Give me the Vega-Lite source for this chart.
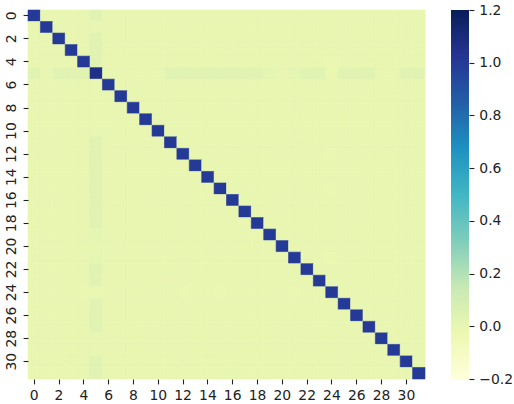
{
"$schema": "https://vega.github.io/schema/vega-lite/v6.json",
"padding": {"left": 4, "top": 3, "right": 5, "bottom": 0},
"spacing": 25,
"config": {"view": {"stroke": null}, "font": "DejaVu Sans", "axis": {"labelFont": "DejaVu Sans", "labelFontSize": 13.9, "labelColor": "#222", "tickColor": "#222", "tickWidth": 1.1, "tickSize": 4.9, "labelPadding": 4.9, "domain": false, "grid": false, "title": null}},
"hconcat": [
{
"width": 397, "height": 369,
"data": {"values": [
{"r":0,"c":0,"v":1},{"r":0,"c":1,"v":0},{"r":0,"c":2,"v":0},{"r":0,"c":3,"v":0},{"r":0,"c":4,"v":0},{"r":0,"c":5,"v":0.03},{"r":0,"c":6,"v":0},{"r":0,"c":7,"v":0},{"r":0,"c":8,"v":0},{"r":0,"c":9,"v":0},{"r":0,"c":10,"v":0},{"r":0,"c":11,"v":0},{"r":0,"c":12,"v":0},{"r":0,"c":13,"v":0},{"r":0,"c":14,"v":0},{"r":0,"c":15,"v":0},{"r":0,"c":16,"v":0},{"r":0,"c":17,"v":0},{"r":0,"c":18,"v":0},{"r":0,"c":19,"v":0},{"r":0,"c":20,"v":0},{"r":0,"c":21,"v":0},{"r":0,"c":22,"v":0},{"r":0,"c":23,"v":0},{"r":0,"c":24,"v":0},{"r":0,"c":25,"v":0},{"r":0,"c":26,"v":0},{"r":0,"c":27,"v":0},{"r":0,"c":28,"v":0},{"r":0,"c":29,"v":0},{"r":0,"c":30,"v":0},{"r":0,"c":31,"v":0},
{"r":1,"c":0,"v":0},{"r":1,"c":1,"v":1},{"r":1,"c":2,"v":0},{"r":1,"c":3,"v":0},{"r":1,"c":4,"v":0},{"r":1,"c":5,"v":0},{"r":1,"c":6,"v":0},{"r":1,"c":7,"v":0},{"r":1,"c":8,"v":0},{"r":1,"c":9,"v":0},{"r":1,"c":10,"v":0},{"r":1,"c":11,"v":0},{"r":1,"c":12,"v":0},{"r":1,"c":13,"v":0},{"r":1,"c":14,"v":0},{"r":1,"c":15,"v":0},{"r":1,"c":16,"v":0},{"r":1,"c":17,"v":0},{"r":1,"c":18,"v":0},{"r":1,"c":19,"v":0},{"r":1,"c":20,"v":0},{"r":1,"c":21,"v":0},{"r":1,"c":22,"v":0},{"r":1,"c":23,"v":0},{"r":1,"c":24,"v":0},{"r":1,"c":25,"v":0},{"r":1,"c":26,"v":0},{"r":1,"c":27,"v":0},{"r":1,"c":28,"v":0},{"r":1,"c":29,"v":0},{"r":1,"c":30,"v":0},{"r":1,"c":31,"v":0},
{"r":2,"c":0,"v":0},{"r":2,"c":1,"v":0},{"r":2,"c":2,"v":1},{"r":2,"c":3,"v":0},{"r":2,"c":4,"v":0},{"r":2,"c":5,"v":0.03},{"r":2,"c":6,"v":0},{"r":2,"c":7,"v":0},{"r":2,"c":8,"v":0},{"r":2,"c":9,"v":0},{"r":2,"c":10,"v":0},{"r":2,"c":11,"v":0},{"r":2,"c":12,"v":0},{"r":2,"c":13,"v":0},{"r":2,"c":14,"v":0},{"r":2,"c":15,"v":0},{"r":2,"c":16,"v":0},{"r":2,"c":17,"v":0},{"r":2,"c":18,"v":0},{"r":2,"c":19,"v":0},{"r":2,"c":20,"v":0},{"r":2,"c":21,"v":0},{"r":2,"c":22,"v":0},{"r":2,"c":23,"v":0},{"r":2,"c":24,"v":0},{"r":2,"c":25,"v":0},{"r":2,"c":26,"v":0},{"r":2,"c":27,"v":0},{"r":2,"c":28,"v":0},{"r":2,"c":29,"v":0},{"r":2,"c":30,"v":0},{"r":2,"c":31,"v":0},
{"r":3,"c":0,"v":0},{"r":3,"c":1,"v":0},{"r":3,"c":2,"v":0},{"r":3,"c":3,"v":1},{"r":3,"c":4,"v":0},{"r":3,"c":5,"v":0.03},{"r":3,"c":6,"v":0},{"r":3,"c":7,"v":0},{"r":3,"c":8,"v":0},{"r":3,"c":9,"v":0},{"r":3,"c":10,"v":0},{"r":3,"c":11,"v":0},{"r":3,"c":12,"v":0},{"r":3,"c":13,"v":0},{"r":3,"c":14,"v":0},{"r":3,"c":15,"v":0},{"r":3,"c":16,"v":0},{"r":3,"c":17,"v":0},{"r":3,"c":18,"v":0},{"r":3,"c":19,"v":0},{"r":3,"c":20,"v":0},{"r":3,"c":21,"v":0},{"r":3,"c":22,"v":0},{"r":3,"c":23,"v":0},{"r":3,"c":24,"v":0},{"r":3,"c":25,"v":0},{"r":3,"c":26,"v":0},{"r":3,"c":27,"v":0},{"r":3,"c":28,"v":0},{"r":3,"c":29,"v":0},{"r":3,"c":30,"v":0},{"r":3,"c":31,"v":0},
{"r":4,"c":0,"v":0},{"r":4,"c":1,"v":0},{"r":4,"c":2,"v":0},{"r":4,"c":3,"v":0},{"r":4,"c":4,"v":1},{"r":4,"c":5,"v":0.03},{"r":4,"c":6,"v":0},{"r":4,"c":7,"v":0},{"r":4,"c":8,"v":0},{"r":4,"c":9,"v":0},{"r":4,"c":10,"v":0},{"r":4,"c":11,"v":0},{"r":4,"c":12,"v":0},{"r":4,"c":13,"v":0},{"r":4,"c":14,"v":0},{"r":4,"c":15,"v":0},{"r":4,"c":16,"v":0},{"r":4,"c":17,"v":0},{"r":4,"c":18,"v":0},{"r":4,"c":19,"v":0},{"r":4,"c":20,"v":0},{"r":4,"c":21,"v":0},{"r":4,"c":22,"v":0},{"r":4,"c":23,"v":0},{"r":4,"c":24,"v":-0.01},{"r":4,"c":25,"v":0},{"r":4,"c":26,"v":0},{"r":4,"c":27,"v":0},{"r":4,"c":28,"v":0},{"r":4,"c":29,"v":0},{"r":4,"c":30,"v":0},{"r":4,"c":31,"v":0},
{"r":5,"c":0,"v":0.03},{"r":5,"c":1,"v":0},{"r":5,"c":2,"v":0.03},{"r":5,"c":3,"v":0.03},{"r":5,"c":4,"v":0.03},{"r":5,"c":5,"v":1.06},{"r":5,"c":6,"v":0},{"r":5,"c":7,"v":0},{"r":5,"c":8,"v":0},{"r":5,"c":9,"v":0},{"r":5,"c":10,"v":0},{"r":5,"c":11,"v":0.03},{"r":5,"c":12,"v":0.03},{"r":5,"c":13,"v":0.03},{"r":5,"c":14,"v":0.03},{"r":5,"c":15,"v":0.03},{"r":5,"c":16,"v":0.03},{"r":5,"c":17,"v":0.03},{"r":5,"c":18,"v":0.03},{"r":5,"c":19,"v":0.01},{"r":5,"c":20,"v":0},{"r":5,"c":21,"v":0.01},{"r":5,"c":22,"v":0.03},{"r":5,"c":23,"v":0.03},{"r":5,"c":24,"v":-0.01},{"r":5,"c":25,"v":0.03},{"r":5,"c":26,"v":0.03},{"r":5,"c":27,"v":0.03},{"r":5,"c":28,"v":0},{"r":5,"c":29,"v":0},{"r":5,"c":30,"v":0.03},{"r":5,"c":31,"v":0.03},
{"r":6,"c":0,"v":0},{"r":6,"c":1,"v":0},{"r":6,"c":2,"v":0},{"r":6,"c":3,"v":0},{"r":6,"c":4,"v":0},{"r":6,"c":5,"v":0},{"r":6,"c":6,"v":1},{"r":6,"c":7,"v":0},{"r":6,"c":8,"v":0},{"r":6,"c":9,"v":0},{"r":6,"c":10,"v":0},{"r":6,"c":11,"v":0},{"r":6,"c":12,"v":0},{"r":6,"c":13,"v":0},{"r":6,"c":14,"v":0},{"r":6,"c":15,"v":0},{"r":6,"c":16,"v":0},{"r":6,"c":17,"v":0},{"r":6,"c":18,"v":0},{"r":6,"c":19,"v":0},{"r":6,"c":20,"v":0},{"r":6,"c":21,"v":0},{"r":6,"c":22,"v":0},{"r":6,"c":23,"v":0},{"r":6,"c":24,"v":0},{"r":6,"c":25,"v":0},{"r":6,"c":26,"v":0},{"r":6,"c":27,"v":0},{"r":6,"c":28,"v":0},{"r":6,"c":29,"v":0},{"r":6,"c":30,"v":0},{"r":6,"c":31,"v":0},
{"r":7,"c":0,"v":0},{"r":7,"c":1,"v":0},{"r":7,"c":2,"v":0},{"r":7,"c":3,"v":0},{"r":7,"c":4,"v":0},{"r":7,"c":5,"v":0},{"r":7,"c":6,"v":0},{"r":7,"c":7,"v":1},{"r":7,"c":8,"v":0},{"r":7,"c":9,"v":0},{"r":7,"c":10,"v":0},{"r":7,"c":11,"v":0},{"r":7,"c":12,"v":0},{"r":7,"c":13,"v":0},{"r":7,"c":14,"v":0},{"r":7,"c":15,"v":0},{"r":7,"c":16,"v":0},{"r":7,"c":17,"v":0},{"r":7,"c":18,"v":0},{"r":7,"c":19,"v":0},{"r":7,"c":20,"v":0},{"r":7,"c":21,"v":0},{"r":7,"c":22,"v":0},{"r":7,"c":23,"v":0},{"r":7,"c":24,"v":0},{"r":7,"c":25,"v":0},{"r":7,"c":26,"v":0},{"r":7,"c":27,"v":0},{"r":7,"c":28,"v":0},{"r":7,"c":29,"v":0},{"r":7,"c":30,"v":0},{"r":7,"c":31,"v":0},
{"r":8,"c":0,"v":0},{"r":8,"c":1,"v":0},{"r":8,"c":2,"v":0},{"r":8,"c":3,"v":0},{"r":8,"c":4,"v":0},{"r":8,"c":5,"v":0},{"r":8,"c":6,"v":0},{"r":8,"c":7,"v":0},{"r":8,"c":8,"v":1},{"r":8,"c":9,"v":0},{"r":8,"c":10,"v":0},{"r":8,"c":11,"v":0},{"r":8,"c":12,"v":0},{"r":8,"c":13,"v":0},{"r":8,"c":14,"v":0},{"r":8,"c":15,"v":0},{"r":8,"c":16,"v":0},{"r":8,"c":17,"v":0},{"r":8,"c":18,"v":0},{"r":8,"c":19,"v":0},{"r":8,"c":20,"v":0},{"r":8,"c":21,"v":0},{"r":8,"c":22,"v":0},{"r":8,"c":23,"v":0},{"r":8,"c":24,"v":0},{"r":8,"c":25,"v":0},{"r":8,"c":26,"v":0},{"r":8,"c":27,"v":0},{"r":8,"c":28,"v":0},{"r":8,"c":29,"v":0},{"r":8,"c":30,"v":0},{"r":8,"c":31,"v":0},
{"r":9,"c":0,"v":0},{"r":9,"c":1,"v":0},{"r":9,"c":2,"v":0},{"r":9,"c":3,"v":0},{"r":9,"c":4,"v":0},{"r":9,"c":5,"v":0},{"r":9,"c":6,"v":0},{"r":9,"c":7,"v":0},{"r":9,"c":8,"v":0},{"r":9,"c":9,"v":1},{"r":9,"c":10,"v":0},{"r":9,"c":11,"v":0},{"r":9,"c":12,"v":0},{"r":9,"c":13,"v":0},{"r":9,"c":14,"v":0},{"r":9,"c":15,"v":0},{"r":9,"c":16,"v":0},{"r":9,"c":17,"v":0},{"r":9,"c":18,"v":0},{"r":9,"c":19,"v":0},{"r":9,"c":20,"v":0},{"r":9,"c":21,"v":0},{"r":9,"c":22,"v":0},{"r":9,"c":23,"v":0},{"r":9,"c":24,"v":0},{"r":9,"c":25,"v":0},{"r":9,"c":26,"v":0},{"r":9,"c":27,"v":0},{"r":9,"c":28,"v":0},{"r":9,"c":29,"v":0},{"r":9,"c":30,"v":0},{"r":9,"c":31,"v":0},
{"r":10,"c":0,"v":0},{"r":10,"c":1,"v":0},{"r":10,"c":2,"v":0},{"r":10,"c":3,"v":0},{"r":10,"c":4,"v":0},{"r":10,"c":5,"v":0},{"r":10,"c":6,"v":0},{"r":10,"c":7,"v":0},{"r":10,"c":8,"v":0},{"r":10,"c":9,"v":0},{"r":10,"c":10,"v":1},{"r":10,"c":11,"v":0},{"r":10,"c":12,"v":0},{"r":10,"c":13,"v":0},{"r":10,"c":14,"v":0},{"r":10,"c":15,"v":0},{"r":10,"c":16,"v":0},{"r":10,"c":17,"v":0},{"r":10,"c":18,"v":0},{"r":10,"c":19,"v":0},{"r":10,"c":20,"v":0},{"r":10,"c":21,"v":0},{"r":10,"c":22,"v":0},{"r":10,"c":23,"v":0},{"r":10,"c":24,"v":0},{"r":10,"c":25,"v":0},{"r":10,"c":26,"v":0},{"r":10,"c":27,"v":0},{"r":10,"c":28,"v":0},{"r":10,"c":29,"v":0},{"r":10,"c":30,"v":0},{"r":10,"c":31,"v":0},
{"r":11,"c":0,"v":0},{"r":11,"c":1,"v":0},{"r":11,"c":2,"v":0},{"r":11,"c":3,"v":0},{"r":11,"c":4,"v":0},{"r":11,"c":5,"v":0.03},{"r":11,"c":6,"v":0},{"r":11,"c":7,"v":0},{"r":11,"c":8,"v":0},{"r":11,"c":9,"v":0},{"r":11,"c":10,"v":0},{"r":11,"c":11,"v":1},{"r":11,"c":12,"v":0},{"r":11,"c":13,"v":0},{"r":11,"c":14,"v":0},{"r":11,"c":15,"v":0},{"r":11,"c":16,"v":0},{"r":11,"c":17,"v":0},{"r":11,"c":18,"v":0},{"r":11,"c":19,"v":0},{"r":11,"c":20,"v":0},{"r":11,"c":21,"v":0},{"r":11,"c":22,"v":0},{"r":11,"c":23,"v":0},{"r":11,"c":24,"v":0},{"r":11,"c":25,"v":0},{"r":11,"c":26,"v":0},{"r":11,"c":27,"v":0},{"r":11,"c":28,"v":0},{"r":11,"c":29,"v":0},{"r":11,"c":30,"v":0},{"r":11,"c":31,"v":0},
{"r":12,"c":0,"v":0},{"r":12,"c":1,"v":0},{"r":12,"c":2,"v":0},{"r":12,"c":3,"v":0},{"r":12,"c":4,"v":0},{"r":12,"c":5,"v":0.03},{"r":12,"c":6,"v":0},{"r":12,"c":7,"v":0},{"r":12,"c":8,"v":0},{"r":12,"c":9,"v":0},{"r":12,"c":10,"v":0},{"r":12,"c":11,"v":0},{"r":12,"c":12,"v":1},{"r":12,"c":13,"v":0},{"r":12,"c":14,"v":0},{"r":12,"c":15,"v":0},{"r":12,"c":16,"v":0},{"r":12,"c":17,"v":0},{"r":12,"c":18,"v":0},{"r":12,"c":19,"v":0},{"r":12,"c":20,"v":0},{"r":12,"c":21,"v":0},{"r":12,"c":22,"v":0},{"r":12,"c":23,"v":0},{"r":12,"c":24,"v":-0.01},{"r":12,"c":25,"v":0},{"r":12,"c":26,"v":0},{"r":12,"c":27,"v":0},{"r":12,"c":28,"v":0},{"r":12,"c":29,"v":0},{"r":12,"c":30,"v":0},{"r":12,"c":31,"v":0},
{"r":13,"c":0,"v":0},{"r":13,"c":1,"v":0},{"r":13,"c":2,"v":0},{"r":13,"c":3,"v":0},{"r":13,"c":4,"v":0},{"r":13,"c":5,"v":0.03},{"r":13,"c":6,"v":0},{"r":13,"c":7,"v":0},{"r":13,"c":8,"v":0},{"r":13,"c":9,"v":0},{"r":13,"c":10,"v":0},{"r":13,"c":11,"v":0},{"r":13,"c":12,"v":0},{"r":13,"c":13,"v":1},{"r":13,"c":14,"v":0},{"r":13,"c":15,"v":0},{"r":13,"c":16,"v":0},{"r":13,"c":17,"v":0},{"r":13,"c":18,"v":0},{"r":13,"c":19,"v":0},{"r":13,"c":20,"v":0},{"r":13,"c":21,"v":0},{"r":13,"c":22,"v":0},{"r":13,"c":23,"v":0},{"r":13,"c":24,"v":0},{"r":13,"c":25,"v":0},{"r":13,"c":26,"v":0},{"r":13,"c":27,"v":0},{"r":13,"c":28,"v":0},{"r":13,"c":29,"v":0},{"r":13,"c":30,"v":0},{"r":13,"c":31,"v":0},
{"r":14,"c":0,"v":0},{"r":14,"c":1,"v":0},{"r":14,"c":2,"v":0},{"r":14,"c":3,"v":0},{"r":14,"c":4,"v":0},{"r":14,"c":5,"v":0.03},{"r":14,"c":6,"v":0},{"r":14,"c":7,"v":0},{"r":14,"c":8,"v":0},{"r":14,"c":9,"v":0},{"r":14,"c":10,"v":0},{"r":14,"c":11,"v":0},{"r":14,"c":12,"v":0},{"r":14,"c":13,"v":0},{"r":14,"c":14,"v":1},{"r":14,"c":15,"v":0},{"r":14,"c":16,"v":0},{"r":14,"c":17,"v":0},{"r":14,"c":18,"v":0},{"r":14,"c":19,"v":0},{"r":14,"c":20,"v":0},{"r":14,"c":21,"v":0},{"r":14,"c":22,"v":0},{"r":14,"c":23,"v":0},{"r":14,"c":24,"v":0},{"r":14,"c":25,"v":0},{"r":14,"c":26,"v":0},{"r":14,"c":27,"v":0},{"r":14,"c":28,"v":0},{"r":14,"c":29,"v":0},{"r":14,"c":30,"v":0},{"r":14,"c":31,"v":0},
{"r":15,"c":0,"v":0},{"r":15,"c":1,"v":0},{"r":15,"c":2,"v":0},{"r":15,"c":3,"v":0},{"r":15,"c":4,"v":0},{"r":15,"c":5,"v":0.03},{"r":15,"c":6,"v":0},{"r":15,"c":7,"v":0},{"r":15,"c":8,"v":0},{"r":15,"c":9,"v":0},{"r":15,"c":10,"v":0},{"r":15,"c":11,"v":0},{"r":15,"c":12,"v":0},{"r":15,"c":13,"v":0},{"r":15,"c":14,"v":0},{"r":15,"c":15,"v":1},{"r":15,"c":16,"v":0},{"r":15,"c":17,"v":0},{"r":15,"c":18,"v":0},{"r":15,"c":19,"v":0},{"r":15,"c":20,"v":0},{"r":15,"c":21,"v":0},{"r":15,"c":22,"v":0},{"r":15,"c":23,"v":0},{"r":15,"c":24,"v":-0.01},{"r":15,"c":25,"v":0},{"r":15,"c":26,"v":0},{"r":15,"c":27,"v":0},{"r":15,"c":28,"v":0},{"r":15,"c":29,"v":0},{"r":15,"c":30,"v":0},{"r":15,"c":31,"v":0},
{"r":16,"c":0,"v":0},{"r":16,"c":1,"v":0},{"r":16,"c":2,"v":0},{"r":16,"c":3,"v":0},{"r":16,"c":4,"v":0},{"r":16,"c":5,"v":0.03},{"r":16,"c":6,"v":0},{"r":16,"c":7,"v":0},{"r":16,"c":8,"v":0},{"r":16,"c":9,"v":0},{"r":16,"c":10,"v":0},{"r":16,"c":11,"v":0},{"r":16,"c":12,"v":0},{"r":16,"c":13,"v":0},{"r":16,"c":14,"v":0},{"r":16,"c":15,"v":0},{"r":16,"c":16,"v":1},{"r":16,"c":17,"v":0},{"r":16,"c":18,"v":0},{"r":16,"c":19,"v":0},{"r":16,"c":20,"v":0},{"r":16,"c":21,"v":0},{"r":16,"c":22,"v":0},{"r":16,"c":23,"v":0},{"r":16,"c":24,"v":0},{"r":16,"c":25,"v":0},{"r":16,"c":26,"v":0},{"r":16,"c":27,"v":0},{"r":16,"c":28,"v":0},{"r":16,"c":29,"v":0},{"r":16,"c":30,"v":0},{"r":16,"c":31,"v":0},
{"r":17,"c":0,"v":0},{"r":17,"c":1,"v":0},{"r":17,"c":2,"v":0},{"r":17,"c":3,"v":0},{"r":17,"c":4,"v":0},{"r":17,"c":5,"v":0.03},{"r":17,"c":6,"v":0},{"r":17,"c":7,"v":0},{"r":17,"c":8,"v":0},{"r":17,"c":9,"v":0},{"r":17,"c":10,"v":0},{"r":17,"c":11,"v":0},{"r":17,"c":12,"v":0},{"r":17,"c":13,"v":0},{"r":17,"c":14,"v":0},{"r":17,"c":15,"v":0},{"r":17,"c":16,"v":0},{"r":17,"c":17,"v":1},{"r":17,"c":18,"v":0},{"r":17,"c":19,"v":0},{"r":17,"c":20,"v":0},{"r":17,"c":21,"v":0},{"r":17,"c":22,"v":0},{"r":17,"c":23,"v":0},{"r":17,"c":24,"v":0},{"r":17,"c":25,"v":0},{"r":17,"c":26,"v":0},{"r":17,"c":27,"v":0},{"r":17,"c":28,"v":0},{"r":17,"c":29,"v":0},{"r":17,"c":30,"v":0},{"r":17,"c":31,"v":0},
{"r":18,"c":0,"v":0},{"r":18,"c":1,"v":0},{"r":18,"c":2,"v":0},{"r":18,"c":3,"v":0},{"r":18,"c":4,"v":0},{"r":18,"c":5,"v":0.03},{"r":18,"c":6,"v":0},{"r":18,"c":7,"v":0},{"r":18,"c":8,"v":0},{"r":18,"c":9,"v":0},{"r":18,"c":10,"v":0},{"r":18,"c":11,"v":0},{"r":18,"c":12,"v":0},{"r":18,"c":13,"v":0},{"r":18,"c":14,"v":0},{"r":18,"c":15,"v":0},{"r":18,"c":16,"v":0},{"r":18,"c":17,"v":0},{"r":18,"c":18,"v":1},{"r":18,"c":19,"v":0},{"r":18,"c":20,"v":0},{"r":18,"c":21,"v":0},{"r":18,"c":22,"v":0},{"r":18,"c":23,"v":0},{"r":18,"c":24,"v":0},{"r":18,"c":25,"v":0},{"r":18,"c":26,"v":0},{"r":18,"c":27,"v":0},{"r":18,"c":28,"v":0},{"r":18,"c":29,"v":0},{"r":18,"c":30,"v":0},{"r":18,"c":31,"v":0},
{"r":19,"c":0,"v":0},{"r":19,"c":1,"v":0},{"r":19,"c":2,"v":0},{"r":19,"c":3,"v":0},{"r":19,"c":4,"v":0},{"r":19,"c":5,"v":0.01},{"r":19,"c":6,"v":0},{"r":19,"c":7,"v":0},{"r":19,"c":8,"v":0},{"r":19,"c":9,"v":0},{"r":19,"c":10,"v":0},{"r":19,"c":11,"v":0},{"r":19,"c":12,"v":0},{"r":19,"c":13,"v":0},{"r":19,"c":14,"v":0},{"r":19,"c":15,"v":0},{"r":19,"c":16,"v":0},{"r":19,"c":17,"v":0},{"r":19,"c":18,"v":0},{"r":19,"c":19,"v":1},{"r":19,"c":20,"v":0},{"r":19,"c":21,"v":0},{"r":19,"c":22,"v":0},{"r":19,"c":23,"v":0},{"r":19,"c":24,"v":0},{"r":19,"c":25,"v":0},{"r":19,"c":26,"v":0},{"r":19,"c":27,"v":0},{"r":19,"c":28,"v":0},{"r":19,"c":29,"v":0},{"r":19,"c":30,"v":0},{"r":19,"c":31,"v":0},
{"r":20,"c":0,"v":0},{"r":20,"c":1,"v":0},{"r":20,"c":2,"v":0},{"r":20,"c":3,"v":0},{"r":20,"c":4,"v":0},{"r":20,"c":5,"v":0},{"r":20,"c":6,"v":0},{"r":20,"c":7,"v":0},{"r":20,"c":8,"v":0},{"r":20,"c":9,"v":0},{"r":20,"c":10,"v":0},{"r":20,"c":11,"v":0},{"r":20,"c":12,"v":0},{"r":20,"c":13,"v":0},{"r":20,"c":14,"v":0},{"r":20,"c":15,"v":0},{"r":20,"c":16,"v":0},{"r":20,"c":17,"v":0},{"r":20,"c":18,"v":0},{"r":20,"c":19,"v":0},{"r":20,"c":20,"v":1},{"r":20,"c":21,"v":0},{"r":20,"c":22,"v":0},{"r":20,"c":23,"v":0},{"r":20,"c":24,"v":0},{"r":20,"c":25,"v":0},{"r":20,"c":26,"v":0},{"r":20,"c":27,"v":0},{"r":20,"c":28,"v":0},{"r":20,"c":29,"v":0},{"r":20,"c":30,"v":0},{"r":20,"c":31,"v":0},
{"r":21,"c":0,"v":0},{"r":21,"c":1,"v":0},{"r":21,"c":2,"v":0},{"r":21,"c":3,"v":0},{"r":21,"c":4,"v":0},{"r":21,"c":5,"v":0.01},{"r":21,"c":6,"v":0},{"r":21,"c":7,"v":0},{"r":21,"c":8,"v":0},{"r":21,"c":9,"v":0},{"r":21,"c":10,"v":0},{"r":21,"c":11,"v":0},{"r":21,"c":12,"v":0},{"r":21,"c":13,"v":0},{"r":21,"c":14,"v":0},{"r":21,"c":15,"v":0},{"r":21,"c":16,"v":0},{"r":21,"c":17,"v":0},{"r":21,"c":18,"v":0},{"r":21,"c":19,"v":0},{"r":21,"c":20,"v":0},{"r":21,"c":21,"v":1},{"r":21,"c":22,"v":0},{"r":21,"c":23,"v":0},{"r":21,"c":24,"v":-0.01},{"r":21,"c":25,"v":0},{"r":21,"c":26,"v":0},{"r":21,"c":27,"v":0},{"r":21,"c":28,"v":0},{"r":21,"c":29,"v":0},{"r":21,"c":30,"v":0},{"r":21,"c":31,"v":0},
{"r":22,"c":0,"v":0},{"r":22,"c":1,"v":0},{"r":22,"c":2,"v":0},{"r":22,"c":3,"v":0},{"r":22,"c":4,"v":0},{"r":22,"c":5,"v":0.03},{"r":22,"c":6,"v":0},{"r":22,"c":7,"v":0},{"r":22,"c":8,"v":0},{"r":22,"c":9,"v":0},{"r":22,"c":10,"v":0},{"r":22,"c":11,"v":0},{"r":22,"c":12,"v":0},{"r":22,"c":13,"v":0},{"r":22,"c":14,"v":0},{"r":22,"c":15,"v":0},{"r":22,"c":16,"v":0},{"r":22,"c":17,"v":0},{"r":22,"c":18,"v":0},{"r":22,"c":19,"v":0},{"r":22,"c":20,"v":0},{"r":22,"c":21,"v":0},{"r":22,"c":22,"v":1},{"r":22,"c":23,"v":0},{"r":22,"c":24,"v":0},{"r":22,"c":25,"v":0},{"r":22,"c":26,"v":0},{"r":22,"c":27,"v":0},{"r":22,"c":28,"v":0},{"r":22,"c":29,"v":0},{"r":22,"c":30,"v":0},{"r":22,"c":31,"v":0},
{"r":23,"c":0,"v":0},{"r":23,"c":1,"v":0},{"r":23,"c":2,"v":0},{"r":23,"c":3,"v":0},{"r":23,"c":4,"v":0},{"r":23,"c":5,"v":0.03},{"r":23,"c":6,"v":0},{"r":23,"c":7,"v":0},{"r":23,"c":8,"v":0},{"r":23,"c":9,"v":0},{"r":23,"c":10,"v":0},{"r":23,"c":11,"v":0},{"r":23,"c":12,"v":0},{"r":23,"c":13,"v":0},{"r":23,"c":14,"v":0},{"r":23,"c":15,"v":0},{"r":23,"c":16,"v":0},{"r":23,"c":17,"v":0},{"r":23,"c":18,"v":0},{"r":23,"c":19,"v":0},{"r":23,"c":20,"v":0},{"r":23,"c":21,"v":0},{"r":23,"c":22,"v":0},{"r":23,"c":23,"v":1},{"r":23,"c":24,"v":0},{"r":23,"c":25,"v":0},{"r":23,"c":26,"v":0},{"r":23,"c":27,"v":0},{"r":23,"c":28,"v":0},{"r":23,"c":29,"v":0},{"r":23,"c":30,"v":0},{"r":23,"c":31,"v":0},
{"r":24,"c":0,"v":0},{"r":24,"c":1,"v":0},{"r":24,"c":2,"v":0},{"r":24,"c":3,"v":0},{"r":24,"c":4,"v":-0.01},{"r":24,"c":5,"v":-0.01},{"r":24,"c":6,"v":0},{"r":24,"c":7,"v":0},{"r":24,"c":8,"v":0},{"r":24,"c":9,"v":0},{"r":24,"c":10,"v":0},{"r":24,"c":11,"v":0},{"r":24,"c":12,"v":-0.01},{"r":24,"c":13,"v":0},{"r":24,"c":14,"v":0},{"r":24,"c":15,"v":-0.01},{"r":24,"c":16,"v":0},{"r":24,"c":17,"v":0},{"r":24,"c":18,"v":0},{"r":24,"c":19,"v":0},{"r":24,"c":20,"v":0},{"r":24,"c":21,"v":-0.01},{"r":24,"c":22,"v":0},{"r":24,"c":23,"v":0},{"r":24,"c":24,"v":1},{"r":24,"c":25,"v":0},{"r":24,"c":26,"v":0},{"r":24,"c":27,"v":0},{"r":24,"c":28,"v":0},{"r":24,"c":29,"v":0},{"r":24,"c":30,"v":0},{"r":24,"c":31,"v":0},
{"r":25,"c":0,"v":0},{"r":25,"c":1,"v":0},{"r":25,"c":2,"v":0},{"r":25,"c":3,"v":0},{"r":25,"c":4,"v":0},{"r":25,"c":5,"v":0.03},{"r":25,"c":6,"v":0},{"r":25,"c":7,"v":0},{"r":25,"c":8,"v":0},{"r":25,"c":9,"v":0},{"r":25,"c":10,"v":0},{"r":25,"c":11,"v":0},{"r":25,"c":12,"v":0},{"r":25,"c":13,"v":0},{"r":25,"c":14,"v":0},{"r":25,"c":15,"v":0},{"r":25,"c":16,"v":0},{"r":25,"c":17,"v":0},{"r":25,"c":18,"v":0},{"r":25,"c":19,"v":0},{"r":25,"c":20,"v":0},{"r":25,"c":21,"v":0},{"r":25,"c":22,"v":0},{"r":25,"c":23,"v":0},{"r":25,"c":24,"v":0},{"r":25,"c":25,"v":1},{"r":25,"c":26,"v":0},{"r":25,"c":27,"v":0},{"r":25,"c":28,"v":0},{"r":25,"c":29,"v":0},{"r":25,"c":30,"v":0},{"r":25,"c":31,"v":0},
{"r":26,"c":0,"v":0},{"r":26,"c":1,"v":0},{"r":26,"c":2,"v":0},{"r":26,"c":3,"v":0},{"r":26,"c":4,"v":0},{"r":26,"c":5,"v":0.03},{"r":26,"c":6,"v":0},{"r":26,"c":7,"v":0},{"r":26,"c":8,"v":0},{"r":26,"c":9,"v":0},{"r":26,"c":10,"v":0},{"r":26,"c":11,"v":0},{"r":26,"c":12,"v":0},{"r":26,"c":13,"v":0},{"r":26,"c":14,"v":0},{"r":26,"c":15,"v":0},{"r":26,"c":16,"v":0},{"r":26,"c":17,"v":0},{"r":26,"c":18,"v":0},{"r":26,"c":19,"v":0},{"r":26,"c":20,"v":0},{"r":26,"c":21,"v":0},{"r":26,"c":22,"v":0},{"r":26,"c":23,"v":0},{"r":26,"c":24,"v":0},{"r":26,"c":25,"v":0},{"r":26,"c":26,"v":1},{"r":26,"c":27,"v":0},{"r":26,"c":28,"v":0},{"r":26,"c":29,"v":0},{"r":26,"c":30,"v":0},{"r":26,"c":31,"v":0},
{"r":27,"c":0,"v":0},{"r":27,"c":1,"v":0},{"r":27,"c":2,"v":0},{"r":27,"c":3,"v":0},{"r":27,"c":4,"v":0},{"r":27,"c":5,"v":0.03},{"r":27,"c":6,"v":0},{"r":27,"c":7,"v":0},{"r":27,"c":8,"v":0},{"r":27,"c":9,"v":0},{"r":27,"c":10,"v":0},{"r":27,"c":11,"v":0},{"r":27,"c":12,"v":0},{"r":27,"c":13,"v":0},{"r":27,"c":14,"v":0},{"r":27,"c":15,"v":0},{"r":27,"c":16,"v":0},{"r":27,"c":17,"v":0},{"r":27,"c":18,"v":0},{"r":27,"c":19,"v":0},{"r":27,"c":20,"v":0},{"r":27,"c":21,"v":0},{"r":27,"c":22,"v":0},{"r":27,"c":23,"v":0},{"r":27,"c":24,"v":0},{"r":27,"c":25,"v":0},{"r":27,"c":26,"v":0},{"r":27,"c":27,"v":1},{"r":27,"c":28,"v":0},{"r":27,"c":29,"v":0},{"r":27,"c":30,"v":0},{"r":27,"c":31,"v":0},
{"r":28,"c":0,"v":0},{"r":28,"c":1,"v":0},{"r":28,"c":2,"v":0},{"r":28,"c":3,"v":0},{"r":28,"c":4,"v":0},{"r":28,"c":5,"v":0},{"r":28,"c":6,"v":0},{"r":28,"c":7,"v":0},{"r":28,"c":8,"v":0},{"r":28,"c":9,"v":0},{"r":28,"c":10,"v":0},{"r":28,"c":11,"v":0},{"r":28,"c":12,"v":0},{"r":28,"c":13,"v":0},{"r":28,"c":14,"v":0},{"r":28,"c":15,"v":0},{"r":28,"c":16,"v":0},{"r":28,"c":17,"v":0},{"r":28,"c":18,"v":0},{"r":28,"c":19,"v":0},{"r":28,"c":20,"v":0},{"r":28,"c":21,"v":0},{"r":28,"c":22,"v":0},{"r":28,"c":23,"v":0},{"r":28,"c":24,"v":0},{"r":28,"c":25,"v":0},{"r":28,"c":26,"v":0},{"r":28,"c":27,"v":0},{"r":28,"c":28,"v":1},{"r":28,"c":29,"v":0},{"r":28,"c":30,"v":0},{"r":28,"c":31,"v":0},
{"r":29,"c":0,"v":0},{"r":29,"c":1,"v":0},{"r":29,"c":2,"v":0},{"r":29,"c":3,"v":0},{"r":29,"c":4,"v":0},{"r":29,"c":5,"v":0},{"r":29,"c":6,"v":0},{"r":29,"c":7,"v":0},{"r":29,"c":8,"v":0},{"r":29,"c":9,"v":0},{"r":29,"c":10,"v":0},{"r":29,"c":11,"v":0},{"r":29,"c":12,"v":0},{"r":29,"c":13,"v":0},{"r":29,"c":14,"v":0},{"r":29,"c":15,"v":0},{"r":29,"c":16,"v":0},{"r":29,"c":17,"v":0},{"r":29,"c":18,"v":0},{"r":29,"c":19,"v":0},{"r":29,"c":20,"v":0},{"r":29,"c":21,"v":0},{"r":29,"c":22,"v":0},{"r":29,"c":23,"v":0},{"r":29,"c":24,"v":0},{"r":29,"c":25,"v":0},{"r":29,"c":26,"v":0},{"r":29,"c":27,"v":0},{"r":29,"c":28,"v":0},{"r":29,"c":29,"v":1},{"r":29,"c":30,"v":0},{"r":29,"c":31,"v":0},
{"r":30,"c":0,"v":0},{"r":30,"c":1,"v":0},{"r":30,"c":2,"v":0},{"r":30,"c":3,"v":0},{"r":30,"c":4,"v":0},{"r":30,"c":5,"v":0.03},{"r":30,"c":6,"v":0},{"r":30,"c":7,"v":0},{"r":30,"c":8,"v":0},{"r":30,"c":9,"v":0},{"r":30,"c":10,"v":0},{"r":30,"c":11,"v":0},{"r":30,"c":12,"v":0},{"r":30,"c":13,"v":0},{"r":30,"c":14,"v":0},{"r":30,"c":15,"v":0},{"r":30,"c":16,"v":0},{"r":30,"c":17,"v":0},{"r":30,"c":18,"v":0},{"r":30,"c":19,"v":0},{"r":30,"c":20,"v":0},{"r":30,"c":21,"v":0},{"r":30,"c":22,"v":0},{"r":30,"c":23,"v":0},{"r":30,"c":24,"v":0},{"r":30,"c":25,"v":0},{"r":30,"c":26,"v":0},{"r":30,"c":27,"v":0},{"r":30,"c":28,"v":0},{"r":30,"c":29,"v":0},{"r":30,"c":30,"v":1},{"r":30,"c":31,"v":0},
{"r":31,"c":0,"v":0},{"r":31,"c":1,"v":0},{"r":31,"c":2,"v":0},{"r":31,"c":3,"v":0},{"r":31,"c":4,"v":0},{"r":31,"c":5,"v":0.03},{"r":31,"c":6,"v":0},{"r":31,"c":7,"v":0},{"r":31,"c":8,"v":0},{"r":31,"c":9,"v":0},{"r":31,"c":10,"v":0},{"r":31,"c":11,"v":0},{"r":31,"c":12,"v":0},{"r":31,"c":13,"v":0},{"r":31,"c":14,"v":0},{"r":31,"c":15,"v":0},{"r":31,"c":16,"v":0},{"r":31,"c":17,"v":0},{"r":31,"c":18,"v":0},{"r":31,"c":19,"v":0},{"r":31,"c":20,"v":0},{"r":31,"c":21,"v":0},{"r":31,"c":22,"v":0},{"r":31,"c":23,"v":0},{"r":31,"c":24,"v":0},{"r":31,"c":25,"v":0},{"r":31,"c":26,"v":0},{"r":31,"c":27,"v":0},{"r":31,"c":28,"v":0},{"r":31,"c":29,"v":0},{"r":31,"c":30,"v":0},{"r":31,"c":31,"v":1}
]},
"mark": {"type": "rect", "strokeWidth": 0.6},
"encoding": {
"x": {"field": "c", "type": "ordinal", "sort": "ascending", "axis": {"values": [0,2,4,6,8,10,12,14,16,18,20,22,24,26,28,30], "labelAngle": 0}},
"y": {"field": "r", "type": "ordinal", "sort": "ascending", "axis": {"values": [0,2,4,6,8,10,12,14,16,18,20,22,24,26,28,30], "labelAngle": -90, "labelAlign": "center", "labelBaseline": "bottom"}},
"color": {"field": "v", "type": "quantitative", "legend": null, "scale": {"type": "linear", "domain": [-0.2, -0.025, 0.15, 0.325, 0.5, 0.675, 0.85, 1.025, 1.2], "range": ["#ffffd9","#edf8b1","#c7e9b4","#7fcdbb","#41b6c4","#1d91c0","#225ea8","#253494","#081d58"], "interpolate": "rgb", "clamp": true}},
"stroke": {"field": "v", "type": "quantitative", "legend": null, "scale": {"type": "linear", "domain": [-0.2, -0.025, 0.15, 0.325, 0.5, 0.675, 0.85, 1.025, 1.2], "range": ["#ffffd9","#edf8b1","#c7e9b4","#7fcdbb","#41b6c4","#1d91c0","#225ea8","#253494","#081d58"], "interpolate": "rgb", "clamp": true}}
}
},
{
"width": 18, "height": 369,
"data": {"values": [{"lo": -0.2, "hi": 1.2, "a": 0, "b": 1}]},
"mark": {"type": "rect", "color": {"gradient": "linear", "x1": 0, "y1": 1, "x2": 0, "y2": 0, "stops": [{"offset": 0, "color": "#ffffd9"},{"offset": 0.125, "color": "#edf8b1"},{"offset": 0.25, "color": "#c7e9b4"},{"offset": 0.375, "color": "#7fcdbb"},{"offset": 0.5, "color": "#41b6c4"},{"offset": 0.625, "color": "#1d91c0"},{"offset": 0.75, "color": "#225ea8"},{"offset": 0.875, "color": "#253494"},{"offset": 1, "color": "#081d58"}]}},
"encoding": {
"x": {"field": "a", "type": "quantitative", "scale": {"domain": [0, 1], "nice": false}, "axis": null},
"x2": {"field": "b"},
"y": {"field": "lo", "type": "quantitative", "scale": {"domain": [-0.2, 1.2], "nice": false, "zero": false}, "axis": {"orient": "right", "values": [-0.2, 0, 0.2, 0.4, 0.6, 0.8, 1.0, 1.2], "format": ".1f", "labelFlush": false, "labelOverlap": false}},
"y2": {"field": "hi"}
}
}
]
}
